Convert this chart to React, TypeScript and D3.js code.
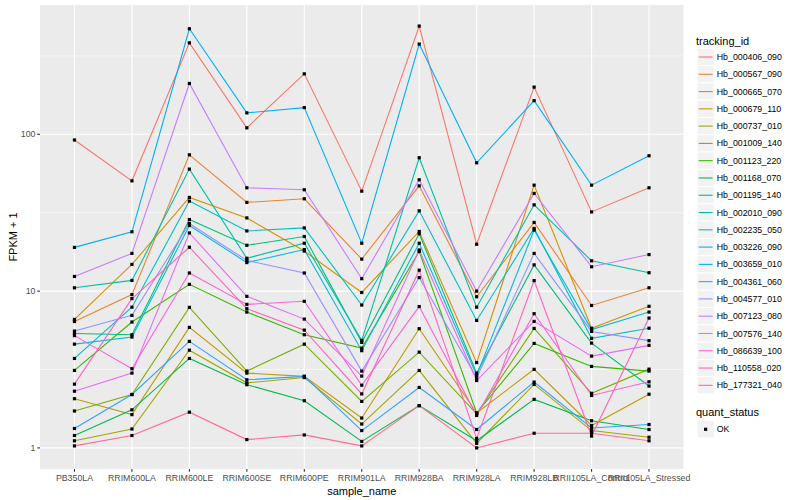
import React from "react";
import * as d3 from "d3";

const samples = [
  "PB350LA", "RRIM600LA", "RRIM600LE", "RRIM600SE", "RRIM600PE", "RRIM901LA",
  "RRIM928BA", "RRIM928LA", "RRIM928LB", "RRII105LA_Control", "RRII105LA_Stressed",
];

const trackingIds = [
  "Hb_000406_090", "Hb_000567_090", "Hb_000665_070", "Hb_000679_110", "Hb_000737_010",
  "Hb_001009_140", "Hb_001123_220", "Hb_001168_070", "Hb_001195_140", "Hb_002010_090",
  "Hb_002235_050", "Hb_003226_090", "Hb_003659_010", "Hb_004361_060", "Hb_004577_010",
  "Hb_007123_080", "Hb_007576_140", "Hb_086639_100", "Hb_110558_020", "Hb_177321_040",
];

const seriesColors = [
  "#F8766D", "#EA8331", "#D89000", "#C09B00", "#A3A500", "#7CAE00", "#39B600", "#00BB4E",
  "#00BF7D", "#00C1A3", "#00BFC4", "#00BAE0", "#00B0F6", "#35A2FF", "#9590FF", "#C77CFF",
  "#E76BF3", "#FA62DB", "#FF62BC", "#FF6C91",
];

// FPKM + 1 values, one per sample
const hb000406 = [92, 50.5, 383, 110, 243, 43.4, 490, 19.9, 200, 32, 45.6];
const hb000567 = [6.4, 9.5, 74, 36.8, 38.8, 16, 46.9, 9.2, 27.4, 8.1, 10.5];
const hb000665 = [6.6, 14.8, 39.6, 29.3, 18, 9.8, 24, 3.5, 47.4, 5.8, 8.0];
const hb000679 = [2.06, 1.63, 5.87, 3.0, 2.86, 1.55, 5.76, 1.67, 3.17, 1.39, 2.2];
const hb000737 = [1.11, 1.32, 4.2, 2.6, 2.81, 1.42, 3.12, 1.07, 2.54, 1.29, 1.17];
const hb001009 = [1.72, 2.19, 7.88, 3.09, 4.59, 1.98, 4.08, 1.65, 5.78, 2.23, 3.18];
const hb001123 = [3.12, 6.35, 11.05, 7.35, 5.27, 4.33, 17.9, 1.67, 4.64, 3.31, 3.09];
const hb001168 = [1.2, 1.75, 3.72, 2.53, 2.0, 1.1, 1.86, 1.11, 2.04, 1.49, 1.31];
const hb001195 = [5.37, 5.27, 28.6, 19.6, 22.3, 4.71, 23.2, 3.0, 14.7, 4.66, 2.48];
const hb002010 = [10.5, 11.7, 60, 16.2, 20.2, 4.85, 70.9, 7.9, 35.5, 15.6, 13.1];
const hb002235 = [3.72, 7.9, 37.5, 24.2, 25.3, 8.15, 32.5, 6.5, 25.1, 5.0, 5.8];
const hb003226 = [4.59, 5.09, 26.2, 15.2, 18.4, 4.17, 20.2, 2.9, 24.5, 5.68, 7.35];
const hb003659 = [19, 23.9, 471, 137, 148, 20.2, 376, 65.8, 164, 47.4, 73];
const hb004361 = [1.33, 2.19, 4.78, 2.72, 2.86, 1.29, 2.43, 1.31, 2.63, 1.34, 1.41];
const hb004577 = [5.56, 7.0, 27, 15.7, 13.05, 3.09, 12.2, 2.8, 17.4, 5.53, 4.83];
const hb007123 = [12.4, 17.4, 211, 45.6, 44.3, 12.0, 51.3, 10.0, 42, 14.3, 17.1];
const hb007576 = [2.3, 3.0, 23.5, 9.26, 6.63, 2.87, 18.3, 2.69, 6.41, 3.85, 4.51];
const hb086639 = [5.2, 3.2, 13.05, 8.23, 8.61, 2.51, 7.97, 1.61, 7.18, 2.16, 2.64];
const hb110558 = [2.55, 8.96, 19.05, 7.73, 5.64, 2.21, 13.6, 1.15, 11.67, 1.19, 6.73];
const hb177321 = [1.03, 1.2, 1.69, 1.13, 1.21, 1.03, 1.86, 1.0, 1.24, 1.24, 1.11];

const seriesValues = [
  hb000406, hb000567, hb000665, hb000679, hb000737, hb001009, hb001123, hb001168,
  hb001195, hb002010, hb002235, hb003226, hb003659, hb004361, hb004577, hb007123,
  hb007576, hb086639, hb110558, hb177321,
];

const yTicks = [1, 10, 100];
const yTickLabels = ["1", "10", "100"];
const yMinor = [Math.pow(10, 0.5), Math.pow(10, 1.5), Math.pow(10, 2.5)];

const W = 800;
const H = 500;
const panel = { left: 40, right: 683.5, top: 5, bottom: 469 };

export default function App() {
  const all = seriesValues.flat();
  const lmin = Math.log10(d3.min(all) as number);
  const lmax = Math.log10(d3.max(all) as number);
  const pad = (lmax - lmin) * 0.05;
  const y = d3
    .scaleLog()
    .domain([Math.pow(10, lmin - pad), Math.pow(10, lmax + pad)])
    .range([panel.bottom, panel.top]);
  const x = d3
    .scalePoint<string>()
    .domain(samples)
    .range([panel.left, panel.right])
    .padding(0.6);

  const line = d3
    .line<number>()
    .x((_, i) => x(samples[i]) as number)
    .y((v) => y(v));

  const font = "'Liberation Sans', Arial, Helvetica, sans-serif";
  const keySize = 17.28;
  const legendX = 697;
  const legendTop = 57 - keySize / 2;
  const ps = 3.2;

  return (
    <svg
      width={W}
      height={H}
      style={{ position: "absolute", left: 0, top: 0, background: "#fff" }}
      fontFamily={font}
    >
      <rect
        x={panel.left}
        y={panel.top}
        width={panel.right - panel.left}
        height={panel.bottom - panel.top}
        fill="#EBEBEB"
      />
      {yMinor.map((t, i) => (
        <line key={"mn" + i} x1={panel.left} x2={panel.right} y1={y(t)} y2={y(t)} stroke="#fff" strokeWidth={0.55} />
      ))}
      {yTicks.map((t, i) => (
        <line key={"mj" + i} x1={panel.left} x2={panel.right} y1={y(t)} y2={y(t)} stroke="#fff" strokeWidth={1.1} />
      ))}
      {samples.map((s) => (
        <line key={"vx" + s} x1={x(s)} x2={x(s)} y1={panel.top} y2={panel.bottom} stroke="#fff" strokeWidth={1.1} />
      ))}
      {seriesValues.map((vals, i) => (
        <path key={"ln" + i} d={line(vals) || ""} fill="none" stroke={seriesColors[i]} strokeWidth={1.1} />
      ))}
      {seriesValues.map((vals, i) =>
        vals.map((v, j) => (
          <rect
            key={"pt" + i + "_" + j}
            x={(x(samples[j]) as number) - ps / 2}
            y={y(v) - ps / 2}
            width={ps}
            height={ps}
            fill="#000"
          />
        ))
      )}
      {/* y axis */}
      {yTicks.map((t, i) => (
        <g key={"yt" + i}>
          <line x1={panel.left - 2.75} x2={panel.left} y1={y(t)} y2={y(t)} stroke="#333" strokeWidth={1.1} />
          <text x={panel.left - 4.5} y={y(t)} dy="0.35em" textAnchor="end" fontSize={8.8} fill="#4D4D4D">
            {yTickLabels[i]}
          </text>
        </g>
      ))}
      <text
        transform={`translate(13.5,${(panel.top + panel.bottom) / 2}) rotate(-90)`}
        textAnchor="middle"
        fontSize={11}
        fill="#000"
        dy="0.35em"
      >
        FPKM + 1
      </text>
      {/* x axis */}
      {samples.map((s) => (
        <g key={"xt" + s}>
          <line x1={x(s)} x2={x(s)} y1={panel.bottom} y2={panel.bottom + 2.75} stroke="#333" strokeWidth={1.1} />
          <text x={x(s)} y={panel.bottom + 11.8} textAnchor="middle" fontSize={8.8} fill="#4D4D4D">
            {s}
          </text>
        </g>
      ))}
      <text x={(panel.left + panel.right) / 2} y={495} textAnchor="middle" fontSize={11} fill="#000">
        sample_name
      </text>
      {/* legend */}
      <text x={696} y={44.5} fontSize={11} fill="#000">
        tracking_id
      </text>
      {trackingIds.map((id, i) => {
        const ky = legendTop + i * keySize;
        return (
          <g key={"lg" + id}>
            <rect x={legendX} y={ky} width={keySize} height={keySize} fill="#F2F2F2" stroke="#fff" strokeWidth={1} />
            <line
              x1={legendX + 1.7}
              x2={legendX + keySize - 1.7}
              y1={ky + keySize / 2}
              y2={ky + keySize / 2}
              stroke={seriesColors[i]}
              strokeWidth={1.1}
            />
            <text x={legendX + keySize + 2.5} y={ky + keySize / 2} dy="0.35em" fontSize={8.8} fill="#000">
              {id}
            </text>
          </g>
        );
      })}
      <text x={696} y={416} fontSize={11} fill="#000">
        quant_status
      </text>
      <rect x={legendX} y={429.3 - keySize / 2} width={keySize} height={keySize} fill="#F2F2F2" stroke="#fff" strokeWidth={1} />
      <rect x={legendX + keySize / 2 - ps / 2} y={429.3 - ps / 2} width={ps} height={ps} fill="#000" />
      <text x={legendX + keySize + 2.5} y={429.3} dy="0.35em" fontSize={8.8} fill="#000">
        OK
      </text>
    </svg>
  );
}
